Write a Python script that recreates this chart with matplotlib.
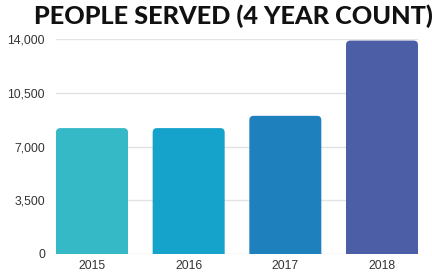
import matplotlib
matplotlib.use("Agg")
import matplotlib.pyplot as plt
from matplotlib.patches import FancyBboxPatch

years = ["2015", "2016", "2017", "2018"]
served = [8200, 8200, 9000, 13900]
colors = ["#35b9c6", "#16a3cb", "#1f80be", "#4c5ea6"]
yticks = [0, 3500, 7000, 10500, 14000]

fig = plt.figure(figsize=(4.32, 2.75), dpi=100)
ax = fig.add_axes([0.1296, 0.0764, 0.838, 0.7816])

width = 0.745
bars = ax.bar(range(len(years)), served, width=width, color=colors, zorder=2)

# rounded tops: swap each bar for a rounded box that dips under the axis
rx, ry = 0.045, 290
for b, c in zip(bars, colors):
    b.set_visible(False)
    p = FancyBboxPatch((b.get_x(), -ry * 2), b.get_width(), b.get_height() + ry * 2,
                       boxstyle=f"round,pad=0,rounding_size={rx}",
                       mutation_aspect=ry / rx, facecolor=c, edgecolor="none",
                       zorder=2)
    ax.add_patch(p)

ax.set_xlim(-width / 2, len(years) - 1 + width / 2)
ax.set_ylim(0, 14000)
ax.set_yticks(yticks)
ax.set_yticklabels([f"{v:,}" for v in yticks])
ax.set_xticks(range(len(years)))
ax.set_xticklabels(years)
ax.grid(axis="y", color="#e3e3e3", linewidth=1, zorder=0)
for s in ax.spines.values():
    s.set_visible(False)
ax.tick_params(length=0, labelsize=8.8, colors="#333333", pad=8)
ax.tick_params(axis="x", pad=4)
for lbl in ax.get_xticklabels() + ax.get_yticklabels():
    lbl.set_family("Liberation Sans")

fig.text(0.541, 0.94, "PEOPLE SERVED (4 YEAR COUNT)", ha="center", va="center",
         fontsize=18.2, fontweight="black", family="Lato", color="#111111")

fig.savefig("out.png", dpi=100)
